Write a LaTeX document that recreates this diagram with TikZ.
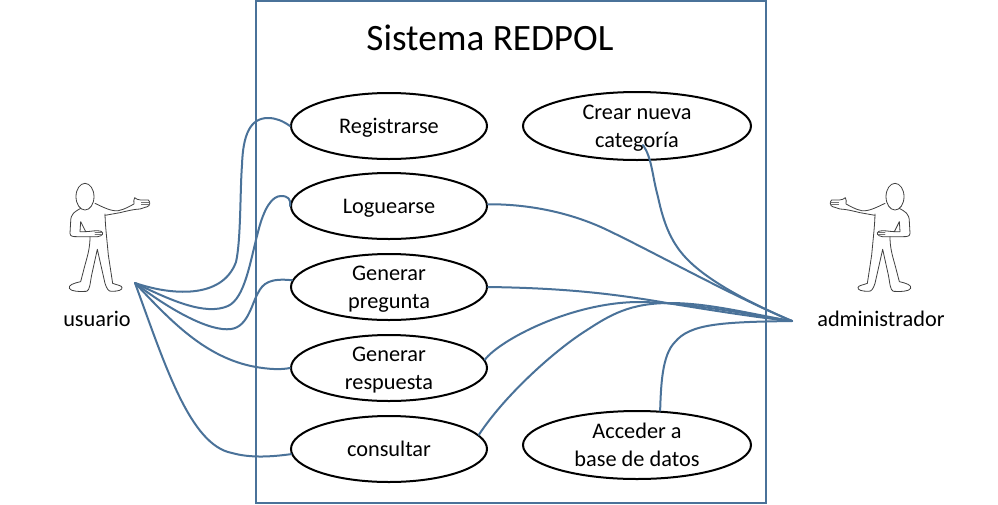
\documentclass[tikz,border=0pt]{standalone}
\usepackage{fontspec}
\setmainfont{Carlito}
\usetikzlibrary{shapes.geometric}
\definecolor{linkblue}{HTML}{4A7299}
\newcommand{\cstext}[1]{\raisebox{-7.1pt}[0pt][0pt]{\begin{tabular}{@{}c@{}}#1\end{tabular}}}
\tikzset{
  usecase/.style={draw=black,line width=2pt,ellipse,inner sep=0pt,font=\fontsize{22.3}{28}\selectfont,minimum width=196pt,minimum height=66pt},
  bigcase/.style={usecase,minimum width=228pt,minimum height=68pt},
  link/.style={draw=linkblue,line width=2pt,line cap=round,line join=round},
  frame/.style={draw=linkblue,line width=2pt},
  actorlabel/.style={font=\fontsize{22.3}{28}\selectfont,inner sep=0pt},
  outline/.style={draw=black!75,line width=0.8pt,line join=round,line cap=round},
  fingers/.style={draw=black!55,line width=0.6pt,line cap=round}
}
\newcommand{\manfigure}{%
  \draw[outline] (135,80) ellipse (27 and 40);
  \draw[outline] (122,115) .. controls (105,125) and (92,130) .. (92,155) -- (90,190) .. controls (90,200) and (100,200) .. (112,200) -- (160,200)
    .. controls (180,202) and (190,195) .. (188,188) .. controls (185,180) and (165,182) .. (150,184) -- (137,185) -- (122,155) -- (120,185) -- (137,185);
  \draw[fingers] (165,188) -- (187,188) (165,194) -- (185,194);
  \draw[outline] (150,200) .. controls (150,230) and (145,250) .. (135,285) -- (122,335) .. controls (100,340) and (85,345) .. (88,355) .. controls (92,365) and (120,365) .. (140,364)
    .. controls (150,360) and (150,340) .. (155,315) -- (172,238) -- (195,340) .. controls (200,355) and (205,365) .. (215,364) .. controls (235,364) and (248,360) .. (246,352) .. controls (244,346) and (230,345) .. (218,340)
    -- (205,255) .. controls (200,200) and (196,170) .. (195,132);
  \draw[outline] (165,100) .. controls (190,112) and (215,125) .. (235,122) .. controls (255,118) and (270,108) .. (282,102) .. controls (282,95) and (280,88) .. (284,83) .. controls (288,85) and (295,92) .. (302,90) -- (325,90) .. controls (332,95) and (330,108) .. (322,110) -- (300,117) .. controls (280,118) and (265,122) .. (240,128) -- (195,136);
  \draw[fingers] (304,96) -- (328,96) (304,103) -- (328,103);
}
\begin{document}
\begin{tikzpicture}[x=1pt,y=-1pt]
\useasboundingbox (0,0) rectangle (998,504);
\fill[white] (0,0) rectangle (998,504);
\node[frame,minimum width=510pt,minimum height=502pt,inner sep=0pt] (sys) at (511,252) {};
\node[font=\fontsize{37.2}{42}\selectfont,inner sep=0pt] (title) at (490,38) {Sistema REDPOL};

\node[usecase] (reg) at (389,126) {\cstext{Registrarse}};
\node[usecase] (log) at (389,206) {\cstext{Loguearse}};
\node[usecase] (gp) at (389,287) {\cstext{Generar\\pregunta}};
\node[usecase] (gr) at (389,368) {\cstext{Generar\\respuesta}};
\node[usecase] (con) at (389,449) {\cstext{consultar}};
\node[bigcase] (cre) at (637,126) {\cstext{Crear nueva\\categoría}};
\node[bigcase] (acc) at (637,445) {\cstext{Acceder a\\base de datos}};

\node[actorlabel] (usr) at (97,319) {usuario};
\node[actorlabel] (adm) at (881,319) {administrador};

\begin{scope}[shift={(40,170)},x=0.3333pt,y=-0.3333pt]
\manfigure
\end{scope}
\begin{scope}[shift={(940,170)},x=-0.3333pt,y=-0.3333pt]
\manfigure
\end{scope}

\coordinate (uhub) at (135,283);
\coordinate (ahub) at (792,321);
\coordinate (cres) at (643,145);

\draw[link] (uhub) .. controls (170,295) and (222,300) .. (236,262) .. controls (241,240) and (240,190) .. (242,165) .. controls (243,135) and (250,118) .. (268,118) .. controls (276,118) and (283,121) .. (reg.west);
\draw[link] (uhub) .. controls (170,300) and (205,316) .. (228,306) .. controls (245,298) and (250,262) .. (258,232) .. controls (264,208) and (272,196) .. (281,196) .. controls (288,196) and (291,199) .. (log.west);
\draw[link] (uhub) .. controls (170,310) and (210,332) .. (231,329) .. controls (248,327) and (252,303) .. (258,293) .. controls (263,283) and (270,278) .. (gp.176);
\draw[link] (uhub) .. controls (170,320) and (205,358) .. (256,367) .. controls (268,369) and (280,370) .. (gr.west);
\draw[link] (uhub) .. controls (165,365) and (190,445) .. (232,453) .. controls (250,458) and (270,457) .. (con.183);

\draw[link] (cres) .. controls (652,158) and (652,175) .. (658,197) .. controls (664,225) and (672,245) .. (690,262) .. controls (712,283) and (750,303) .. (ahub);
\draw[link] (log.1) .. controls (530,204) and (570,213) .. (603,228) .. controls (650,250) and (730,295) .. (ahub);
\draw[link] (gp.east) .. controls (560,288) and (610,293) .. (667,303) .. controls (710,310) and (760,318) .. (ahub);
\draw[link] (gr.5) .. controls (500,340) and (570,303) .. (637,302) .. controls (690,302) and (750,315) .. (ahub);
\draw[link] (con.9) .. controls (505,395) and (555,350) .. (587,330) .. controls (610,315) and (630,303) .. (670,303) .. controls (710,303) and (755,315) .. (ahub);
\draw[link] (acc.56) .. controls (661,385) and (662,355) .. (675,342) .. controls (690,324) and (720,322) .. (ahub);
\end{tikzpicture}
\end{document}
